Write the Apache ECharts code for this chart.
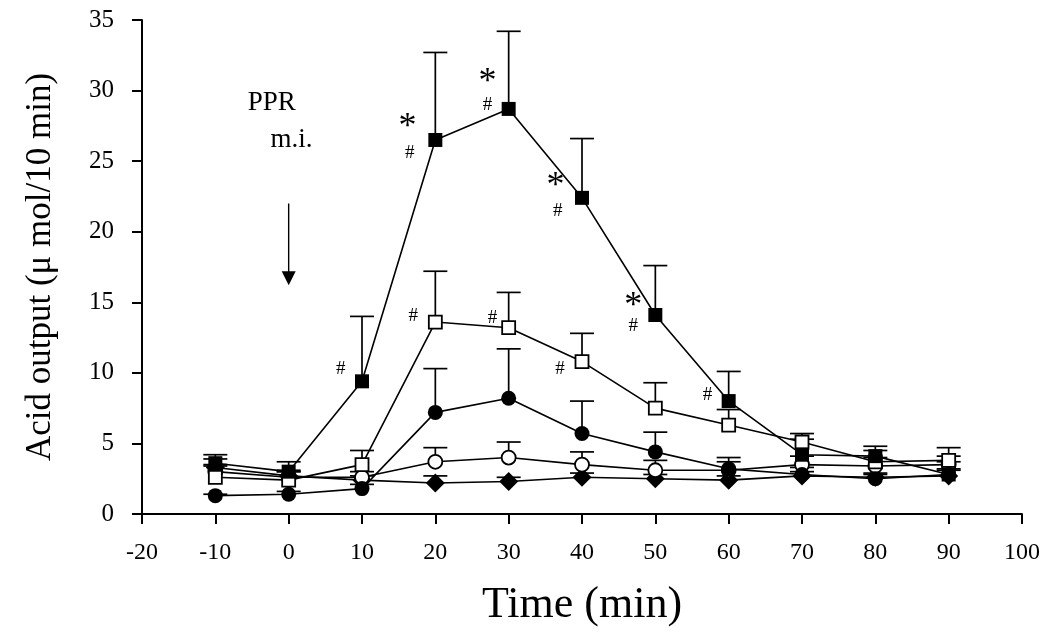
<!DOCTYPE html>
<html>
<head>
<meta charset="utf-8">
<script src="https://cdn.jsdelivr.net/npm/echarts@6/dist/echarts.min.js"></script>
<style>
html,body{margin:0;padding:0;background:#fff;}
#chart{width:1050px;height:639px;}
</style>
</head>
<body>
<div id="chart"></div>
<script>
// ---- data ----
const times = [-10, 0, 10, 20, 30, 40, 50, 60, 70, 80, 90];

const filledSquare    = [3.6, 3.0, 9.4, 26.5, 28.7, 22.4, 14.1, 8.0, 4.2, 4.1, 2.8];
const filledSquareErr = [0.6, 0.7, 4.6, 6.2, 5.5, 4.2, 3.5, 2.1, 1.1, 0.7, 0.9];

const openSquare      = [2.6, 2.4, 3.5, 13.6, 13.2, 10.8, 7.5, 6.3, 5.1, 3.7, 3.8];
const openSquareErr   = [0.8, 0.6, 1.0, 3.6, 2.5, 2.0, 1.8, 1.1, 0.6, 0.8, 0.9];

const filledCircle    = [1.3, 1.4, 1.8, 7.2, 8.2, 5.7, 4.4, 3.2, 2.8, 2.5, 2.8];
const filledCircleErr = [0.1, 0.2, 0.3, 3.1, 3.5, 2.3, 1.4, 0.8, 0.5, 0.3, 0.4];

const openCircle      = [3.0, 2.6, 2.6, 3.7, 4.0, 3.5, 3.1, 3.1, 3.5, 3.4, 3.5];
const openCircleErr   = [0.5, 0.4, 0.4, 1.0, 1.1, 0.9, 0.7, 0.6, 0.6, 0.6, 0.6];

const filledDiamond    = [3.3, 2.7, 2.4, 2.2, 2.3, 2.6, 2.5, 2.4, 2.7, 2.6, 2.7];
const filledDiamondErr = [0.6, 0.4, 0.3, 0.5, 0.3, 0.3, 0.3, 0.3, 0.3, 0.3, 0.4];

// significance marks: [time, value, text]
const starMarks = [[16.2, 27.4, '*'], [27.1, 30.6, '*'], [36.4, 23.2, '*'], [47.0, 14.7, '*']];
const hashMarks = [[7.1, 10.3, '#'], [16.5, 25.6, '#'], [27.1, 29.0, '#'], [36.7, 21.5, '#'],
                   [47.0, 13.3, '#'], [57.1, 8.4, '#'], [17.0, 14.0, '#'], [27.8, 13.9, '#'], [37.0, 10.3, '#']];
const textNotes = [[-2.3, 29.1, 'PPR'], [0.4, 26.5, 'm.i.']];
// arrow: [time, fromValue, toValue]
const arrows = [[0, 22.0, 16.2]];

const xTicks = {min: -20, max: 100, interval: 10};
const yTicks = {min: 0, max: 35, interval: 5};

// ---- chart ----
const FONT = '"Liberation Serif", "DejaVu Serif", serif';
const chart = echarts.init(document.getElementById('chart'));

function pairs(v) { return times.map((t, i) => [t, v[i]]); }
function errData(v, e) { return times.map((t, i) => [t, v[i], v[i] + e[i]]); }

function errSeries(v, e) {
  return {
    type: 'custom',
    data: errData(v, e),
    z: 1,
    silent: true,
    renderItem: function (params, api) {
      const p0 = api.coord([api.value(0), api.value(1)]);
      const p1 = api.coord([api.value(0), api.value(2)]);
      const hw = 12;
      return {
        type: 'group',
        children: [
          {type: 'line', shape: {x1: p0[0], y1: p0[1], x2: p1[0], y2: p1[1]}, style: {stroke: '#000', lineWidth: 1.7}},
          {type: 'line', shape: {x1: p1[0] - hw, y1: p1[1], x2: p1[0] + hw, y2: p1[1]}, style: {stroke: '#000', lineWidth: 1.7}}
        ]
      };
    }
  };
}

function lineSeries(v, symbol, size, filled) {
  return {
    type: 'line',
    data: pairs(v),
    symbol: symbol,
    symbolSize: size,
    showAllSymbol: true,
    z: 3,
    lineStyle: {color: '#000', width: 1.6},
    itemStyle: {color: filled ? '#000' : '#fff', borderColor: '#000', borderWidth: filled ? 0 : 1.8, opacity: 1},
    emphasis: {disabled: true},
    animation: false
  };
}

function textSeries(list, size) {
  return {
    type: 'custom',
    data: list,
    z: 5,
    silent: true,
    renderItem: function (params, api) {
      const p = api.coord([api.value(0), api.value(1)]);
      return {
        type: 'text',
        x: p[0], y: p[1],
        style: {text: list[params.dataIndex][2], font: size + 'px ' + FONT, fill: '#000', align: 'center', verticalAlign: 'middle'}
      };
    }
  };
}

const arrowSeries = {
  type: 'custom',
  data: arrows,
  z: 5,
  silent: true,
  renderItem: function (params, api) {
    const a = api.coord([api.value(0), api.value(1)]);
    const b = api.coord([api.value(0), api.value(2)]);
    const hw = 7, hl = 14;
    return {
      type: 'group',
      children: [
        {type: 'line', shape: {x1: a[0], y1: a[1], x2: b[0], y2: b[1] - hl + 2}, style: {stroke: '#000', lineWidth: 1.4}},
        {type: 'polygon', shape: {points: [[b[0] - hw, b[1] - hl], [b[0] + hw, b[1] - hl], [b[0], b[1]]]}, style: {fill: '#000'}}
      ]
    };
  }
};

const option = {
  backgroundColor: '#fff',
  animation: false,
  grid: {left: 142, right: 28, top: 20, bottom: 125, containLabel: false},
  xAxis: {
    type: 'value',
    min: xTicks.min, max: xTicks.max, interval: xTicks.interval,
    name: 'Time (min)',
    nameLocation: 'middle',
    nameGap: 69,
    nameTextStyle: {fontFamily: FONT, fontSize: 44, color: '#000'},
    axisLine: {show: true, onZero: false, lineStyle: {color: '#000', width: 2}},
    axisTick: {show: true, inside: false, length: 10, lineStyle: {color: '#000', width: 2}},
    axisLabel: {fontFamily: FONT, fontSize: 24, color: '#000', margin: 27},
    splitLine: {show: false}
  },
  yAxis: {
    type: 'value',
    min: yTicks.min, max: yTicks.max, interval: yTicks.interval,
    name: 'Acid output (\u03bc mol/10 min)',
    nameLocation: 'middle',
    nameGap: 84,
    nameRotate: 90,
    nameTextStyle: {fontFamily: FONT, fontSize: 35, color: '#000'},
    axisLine: {show: true, onZero: false, lineStyle: {color: '#000', width: 2}},
    axisTick: {show: true, inside: false, length: 10, lineStyle: {color: '#000', width: 2}},
    axisLabel: {fontFamily: FONT, fontSize: 25, color: '#000', margin: 28},
    splitLine: {show: false}
  },
  series: [
    errSeries(filledDiamond, filledDiamondErr),
    errSeries(openCircle, openCircleErr),
    errSeries(filledCircle, filledCircleErr),
    errSeries(openSquare, openSquareErr),
    errSeries(filledSquare, filledSquareErr),
    lineSeries(filledDiamond, 'diamond', [19, 19], true),
    lineSeries(openCircle, 'circle', 14, false),
    lineSeries(filledCircle, 'circle', 15, true),
    lineSeries(openSquare, 'rect', 13, false),
    lineSeries(filledSquare, 'rect', 14, true),
    textSeries(starMarks, 36),
    textSeries(hashMarks, 19),
    textSeries(textNotes, 27),
    arrowSeries
  ]
};
chart.setOption(option);
</script>
</body>
</html>
